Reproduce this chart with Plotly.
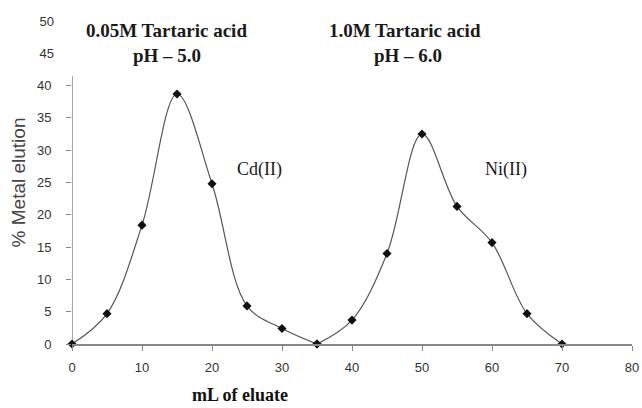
import plotly.graph_objects as go

# Data
cd_x = [0, 5, 10, 15, 20, 25, 30, 35]
cd_y = [0, 4.7, 18.4, 38.7, 24.8, 5.9, 2.4, 0]
ni_x = [35, 40, 45, 50, 55, 60, 65, 70]
ni_y = [0, 3.7, 14.0, 32.5, 21.3, 15.7, 4.7, 0]

x_ticks = [0, 10, 20, 30, 40, 50, 60, 70, 80]
y_ticks_main = [0, 5, 10, 15, 20, 25, 30, 35, 40]
y_ticks_upper = [45, 50]

W, H = 642, 408
ML, MR, MT, MB = 72, 10, 21, 64

line_col = "#555555"
axis_col = "#888888"
tick_font = dict(family="Liberation Sans, Arial", size=13, color="#333333")
serif = "Liberation Serif, Times New Roman, serif"

fig = go.Figure()
for xs, ys in [(cd_x, cd_y), (ni_x, ni_y)]:
    fig.add_trace(go.Scatter(
        x=xs, y=ys, mode="lines+markers",
        line=dict(color=line_col, width=1.2, shape="spline", smoothing=1.0),
        marker=dict(symbol="diamond", size=7, color="#111111"),
        showlegend=False, cliponaxis=False,
    ))

fig.update_layout(
    width=W, height=H,
    margin=dict(l=ML, r=MR, t=MT, b=MB, autoexpand=False),
    paper_bgcolor="white", plot_bgcolor="white",
    xaxis=dict(
        range=[0, 80], tickvals=x_ticks, showgrid=False, zeroline=False,
        showline=True, linecolor=axis_col, linewidth=1.5,
        ticks="outside", ticklen=5, tickcolor=axis_col,
        tickfont=tick_font, ticklabelstandoff=6, automargin=False,
        ticklabeloverflow="allow",
    ),
    yaxis=dict(
        range=[0, 50], tickvals=y_ticks_main, showgrid=False, zeroline=False,
        showline=False, ticks="outside", ticklen=5, tickcolor=axis_col,
        tickfont=tick_font, ticklabelstandoff=12, automargin=False,
        title=dict(text="% Metal elution",
                   font=dict(family="Liberation Sans, Arial", size=19, color="#444444"),
                   standoff=6),
    ),
    yaxis2=dict(
        range=[0, 50], tickvals=y_ticks_upper, overlaying="y", side="left",
        showgrid=False, zeroline=False, showline=False, ticks="",
        tickfont=tick_font, ticklabelstandoff=17, automargin=False,
    ),
)

# invisible trace to activate yaxis2
fig.add_trace(go.Scatter(x=[None], y=[None], yaxis="y2", showlegend=False, hoverinfo="skip"))

# partial y-axis line (upper part hidden behind the condition labels)
fig.add_shape(type="line", xref="x", yref="y", x0=0, x1=0, y0=0, y1=41.5,
              line=dict(color=axis_col, width=1.5), layer="below")

# x-axis title (offset left in the original)
pw, ph = W - ML - MR, H - MT - MB
fig.add_annotation(x=(240 - ML) / pw, y=-(395 - (H - MB)) / ph,
                   xref="paper", yref="paper", text="<b>mL of eluate</b>",
                   xanchor="center", yanchor="middle", showarrow=False,
                   font=dict(family=serif, size=18, color="#111111"))

ann_font = dict(family=serif, size=19, color="#1a1a1a")
fig.add_annotation(x=13.5, y=48.6, xref="x", yref="y", text="<b>0.05M Tartaric acid</b>",
                   showarrow=False, font=ann_font)
fig.add_annotation(x=13.5, y=44.7, xref="x", yref="y", text="<b>pH – 5.0</b>",
                   showarrow=False, font=ann_font)
fig.add_annotation(x=47.6, y=48.6, xref="x", yref="y", text="<b>1.0M Tartaric acid</b>",
                   showarrow=False, font=ann_font)
fig.add_annotation(x=48.0, y=44.7, xref="x", yref="y", text="<b>pH – 6.0</b>",
                   showarrow=False, font=ann_font)
lab_font = dict(family=serif, size=18, color="#1a1a1a")
fig.add_annotation(x=26.8, y=27.0, xref="x", yref="y", text="Cd(II)",
                   showarrow=False, font=lab_font)
fig.add_annotation(x=62.0, y=27.0, xref="x", yref="y", text="Ni(II)",
                   showarrow=False, font=lab_font)

fig.write_html("out.html", config={"displayModeBar": False},
               post_script="document.body.style.margin='0';")
